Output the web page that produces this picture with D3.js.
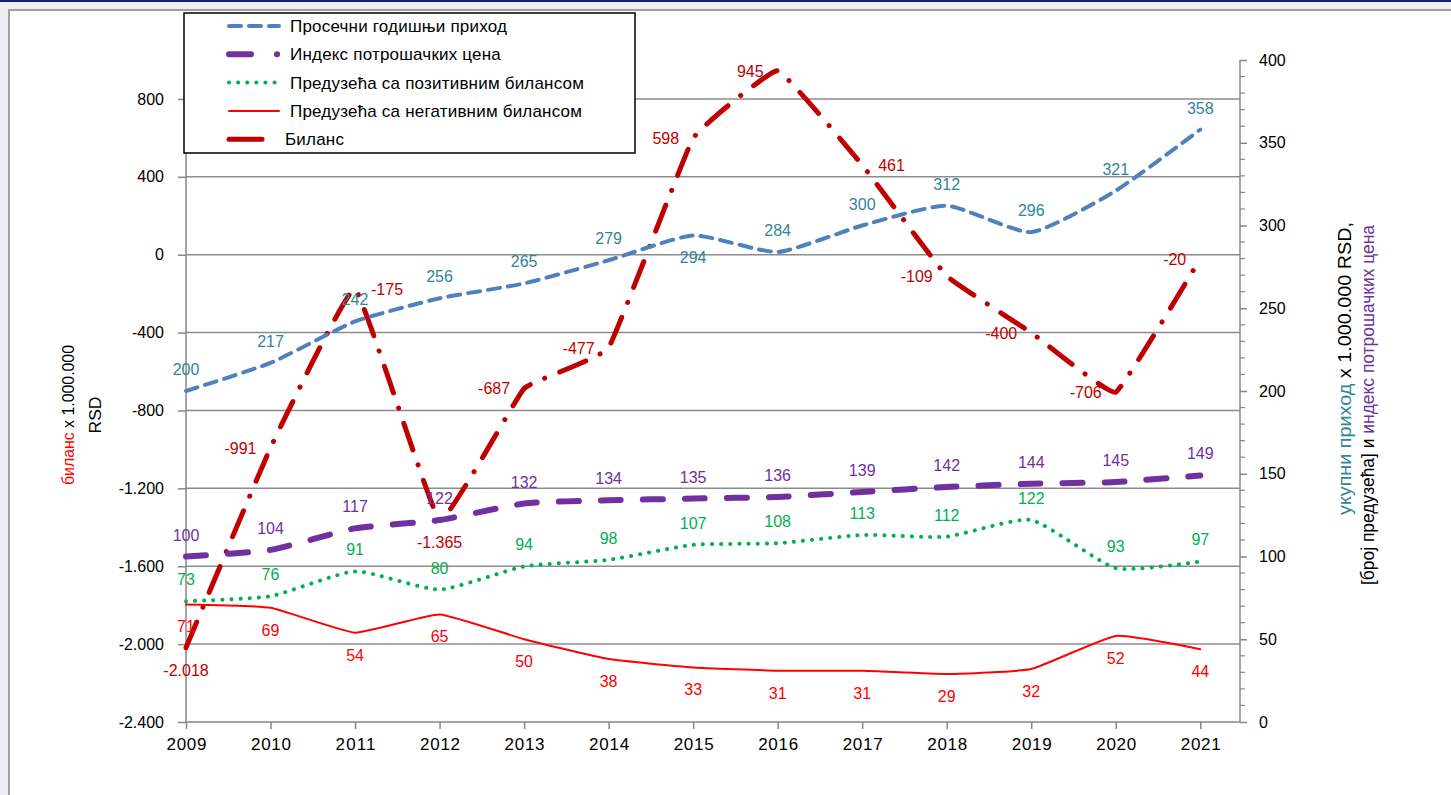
<!DOCTYPE html>
<html>
<head>
<meta charset="utf-8">
<script src="https://cdn.jsdelivr.net/npm/d3@7"></script>
<style>
  body { margin: 0; background: #eeeef4; }
  svg { display: block; }
  text { font-family: "Liberation Sans", Arial, sans-serif; }
</style>
</head>
<body>
<div id="chart"></div>
<script>
// подаци
const years = [2009, 2010, 2011, 2012, 2013, 2014, 2015, 2016, 2017, 2018, 2019, 2020, 2021];
const prihod = [200, 217, 242, 256, 265, 279, 294, 284, 300, 312, 296, 321, 358];
const indeksCena = [100, 104, 117, 122, 132, 134, 135, 136, 139, 142, 144, 145, 149];
const pozitivna = [73, 76, 91, 80, 94, 98, 107, 108, 113, 112, 122, 93, 97];
const negativna = [71, 69, 54, 65, 50, 38, 33, 31, 31, 29, 32, 52, 44];
const bilans = [-2018, -991, -175, -1365, -687, -477, 598, 945, 461, -109, -400, -706, -20];
const leftTicks = [-2400, -2000, -1600, -1200, -800, -400, 0, 400, 800];
const rightTicks = [0, 50, 100, 150, 200, 250, 300, 350, 400];

// где стоји ознака вредности (t горе, b доле, l лево, r десно)
const bilansLabelPos = ["b", "l", "r", "b", "l", "l", "l", "l", "r", "l", "l", "l", "l"];
const prihodLabelPos = ["t", "t", "t", "t", "t", "t", "b", "t", "t", "t", "t", "t", "t"];

const W = 1451, H = 795;
const plot = {left: 186, right: 1240, top: 60, bottom: 722};

const svg = d3.select("#chart").append("svg")
    .attr("width", W)
    .attr("height", H);

// оквир
svg.append("rect").attr("x", 0).attr("y", 0).attr("width", W).attr("height", 2).attr("fill", "#1c1c78");
svg.append("rect").attr("x", 9).attr("y", 10).attr("width", W).attr("height", H)
    .attr("fill", "#fff").attr("stroke", "#a0a0a0").attr("stroke-width", 2);

const x = d3.scaleLinear().domain([2009, 2021.47]).range([plot.left, plot.right]);
const yL = d3.scaleLinear().domain([-2400, 1000]).range([plot.bottom, plot.top]);
const yR = d3.scaleLinear().domain([0, 400]).range([plot.bottom, plot.top]);

const sr = d3.formatLocale({decimal: ",", thousands: ".", grouping: [3], currency: ["", ""], minus: "-"});
const fmt = sr.format(",d");

// мрежа
svg.append("g").selectAll("line")
    .data(leftTicks.filter(d => d > -2400))
    .enter().append("line")
    .attr("x1", plot.left).attr("x2", plot.right)
    .attr("y1", d => yL(d)).attr("y2", d => yL(d))
    .attr("stroke", "#8c8c8c").attr("stroke-width", 1.5);

// лева оса
const gL = svg.append("g")
    .attr("transform", `translate(${plot.left},0)`)
    .call(d3.axisLeft(yL).tickValues(leftTicks).tickFormat(fmt).tickSize(8).tickPadding(14));
gL.select(".domain").attr("stroke", "#868686").attr("stroke-width", 1.5).attr("d", `M0,${plot.top}V${plot.bottom}`);
gL.selectAll(".tick line").attr("stroke", "#868686").attr("stroke-width", 1.5);
gL.selectAll(".tick text").style("font-family", "Liberation Sans, Arial, sans-serif").style("font-size", "16px").attr("fill", "#000");

// десна оса
const gR = svg.append("g")
    .attr("transform", `translate(${plot.right},0)`)
    .call(d3.axisRight(yR).tickValues(rightTicks).tickSize(7).tickPadding(12));
gR.select(".domain").attr("stroke", "#868686").attr("stroke-width", 1.5).attr("d", `M0,${plot.top}V${plot.bottom}`);
gR.selectAll(".tick line").attr("stroke", "#868686").attr("stroke-width", 1.5);
gR.selectAll(".tick text").style("font-family", "Liberation Sans, Arial, sans-serif").style("font-size", "16px").attr("fill", "#000");
gR.append("g").selectAll("line")
    .data(d3.range(0, 401, 10).filter(d => d % 50 !== 0))
    .enter().append("line")
    .attr("x1", 0).attr("x2", 5)
    .attr("y1", d => yR(d)).attr("y2", d => yR(d))
    .attr("stroke", "#868686").attr("stroke-width", 1.2);

// хоризонтална оса
const gX = svg.append("g")
    .attr("transform", `translate(0,${plot.bottom})`)
    .call(d3.axisBottom(x).tickValues(years).tickFormat(d3.format("d")).tickSize(7).tickPadding(9));
gX.select(".domain").attr("stroke", "#868686").attr("stroke-width", 1.5).attr("d", `M${plot.left},0H${plot.right}`);
gX.selectAll(".tick line").attr("stroke", "#868686").attr("stroke-width", 1.5);
gX.selectAll(".tick text")
    .style("font-family", "Liberation Sans, Arial, sans-serif")
    .style("font-size", "17px")
    .attr("textLength", 40)
    .attr("lengthAdjust", "spacing")
    .attr("fill", "#000");

// серије
const series = [
    {name: "Биланс", values: bilans, y: yL, color: "#c00000", width: 5, dash: "28,16,0.1,16", label: "#c00000", pos: bilansLabelPos, legendDash: null, tension: 0.75},
    {name: "Просечни годишњи приход", values: prihod, y: yR, color: "#4f81bd", width: 4, dash: "12,8", label: "#31849b", pos: prihodLabelPos, legendDash: "12,8", tension: 0.45},
    {name: "Индекс потрошачких цена", values: indeksCena, y: yR, color: "#7030a0", width: 6, dash: "20,22", label: "#7030a0", pos: null, legendDash: "22,26,0.1,40", tension: 0.45},
    {name: "Предузећа са позитивним билансом", values: pozitivna, y: yR, color: "#00b050", width: 4, dash: "0.1,9", label: "#00b050", pos: null, defPos: "t", legendDash: "0.1,9", tension: 0.45},
    {name: "Предузећа са негативним билансом", values: negativna, y: yR, color: "#ff0000", width: 2, dash: null, label: "#ff0000", pos: null, defPos: "b", legendDash: null, tension: 0.6}
];

series.forEach(s => {
    const line = d3.line()
        .x((d, i) => x(years[i]))
        .y(d => s.y(d))
        .curve(d3.curveCardinal.tension(s.tension));
    svg.append("path")
        .datum(s.values)
        .attr("d", line)
        .attr("fill", "none")
        .attr("stroke", s.color)
        .attr("stroke-width", s.width)
        .attr("stroke-linecap", "round")
        .attr("stroke-dasharray", s.dash);
});

// ознаке вредности
series.forEach(s => {
    const posOf = i => s.pos ? s.pos[i] : (s.defPos || "t");
    svg.append("g").selectAll("text")
        .data(s.values)
        .enter().append("text")
        .attr("x", (d, i) => {
            const p = posOf(i);
            const px = x(years[i]);
            return p === "l" ? px - 14 : p === "r" ? px + 16 : px;
        })
        .attr("y", (d, i) => {
            const p = posOf(i);
            const py = s.y(d);
            return p === "t" ? py - 16 : p === "b" ? py + 28 : py + 6;
        })
        .attr("text-anchor", (d, i) => {
            const p = posOf(i);
            return p === "l" ? "end" : p === "r" ? "start" : "middle";
        })
        .style("font-size", "16px")
        .attr("fill", s.label)
        .text(d => fmt(d));
});

// наслови оса (уски фонт: сабијено по дужини)
const leftTitle = svg.append("text")
    .attr("transform", "translate(74,415) rotate(-90)")
    .attr("text-anchor", "middle")
    .attr("textLength", 140)
    .attr("lengthAdjust", "spacingAndGlyphs")
    .style("font-size", "17px");
leftTitle.append("tspan").attr("fill", "#ff0000").text("биланс");
leftTitle.append("tspan").attr("fill", "#000").text(" x 1.000.000");
svg.append("text")
    .attr("transform", "translate(101,415) rotate(-90)")
    .attr("text-anchor", "middle")
    .attr("textLength", 37)
    .attr("lengthAdjust", "spacingAndGlyphs")
    .style("font-size", "17px")
    .attr("fill", "#000")
    .text("RSD");

const rt1 = svg.append("text")
    .attr("transform", "translate(1351,368.5) rotate(-90)")
    .attr("text-anchor", "middle")
    .attr("textLength", 293)
    .attr("lengthAdjust", "spacingAndGlyphs")
    .style("font-size", "18px");
rt1.append("tspan").attr("fill", "#31849b").text("укупни приход");
rt1.append("tspan").attr("fill", "#000").text(" x 1.000.000 RSD,");
const rt2 = svg.append("text")
    .attr("transform", "translate(1374,405) rotate(-90)")
    .attr("text-anchor", "middle")
    .attr("textLength", 360)
    .attr("lengthAdjust", "spacingAndGlyphs")
    .style("font-size", "18px");
rt2.append("tspan").attr("fill", "#000").text("[број предузећа] и ");
rt2.append("tspan").attr("fill", "#7030a0").text("индекс потрошачких цена");

// легенда
const legendOrder = [1, 2, 3, 4, 0];
const lg = svg.append("g");
lg.append("rect")
    .attr("x", 184).attr("y", 13).attr("width", 451).attr("height", 140)
    .attr("fill", "#fff").attr("stroke", "#000").attr("stroke-width", 1.5);
legendOrder.forEach((k, i) => {
    const s = series[k];
    const cy = 26 + i * 28.3;
    lg.append("line")
        .attr("x1", 229).attr("x2", k === 0 ? 262 : 279)
        .attr("y1", cy).attr("y2", cy)
        .attr("stroke", s.color)
        .attr("stroke-width", s.width)
        .attr("stroke-linecap", "round")
        .attr("stroke-dasharray", s.legendDash);
    lg.append("text")
        .attr("x", k === 0 ? 285 : 290)
        .attr("y", cy + 6)
        .style("font-size", "17px")
        .style("letter-spacing", "0.2px")
        .attr("fill", "#000")
        .text(s.name);
});
</script>
</body>
</html>
